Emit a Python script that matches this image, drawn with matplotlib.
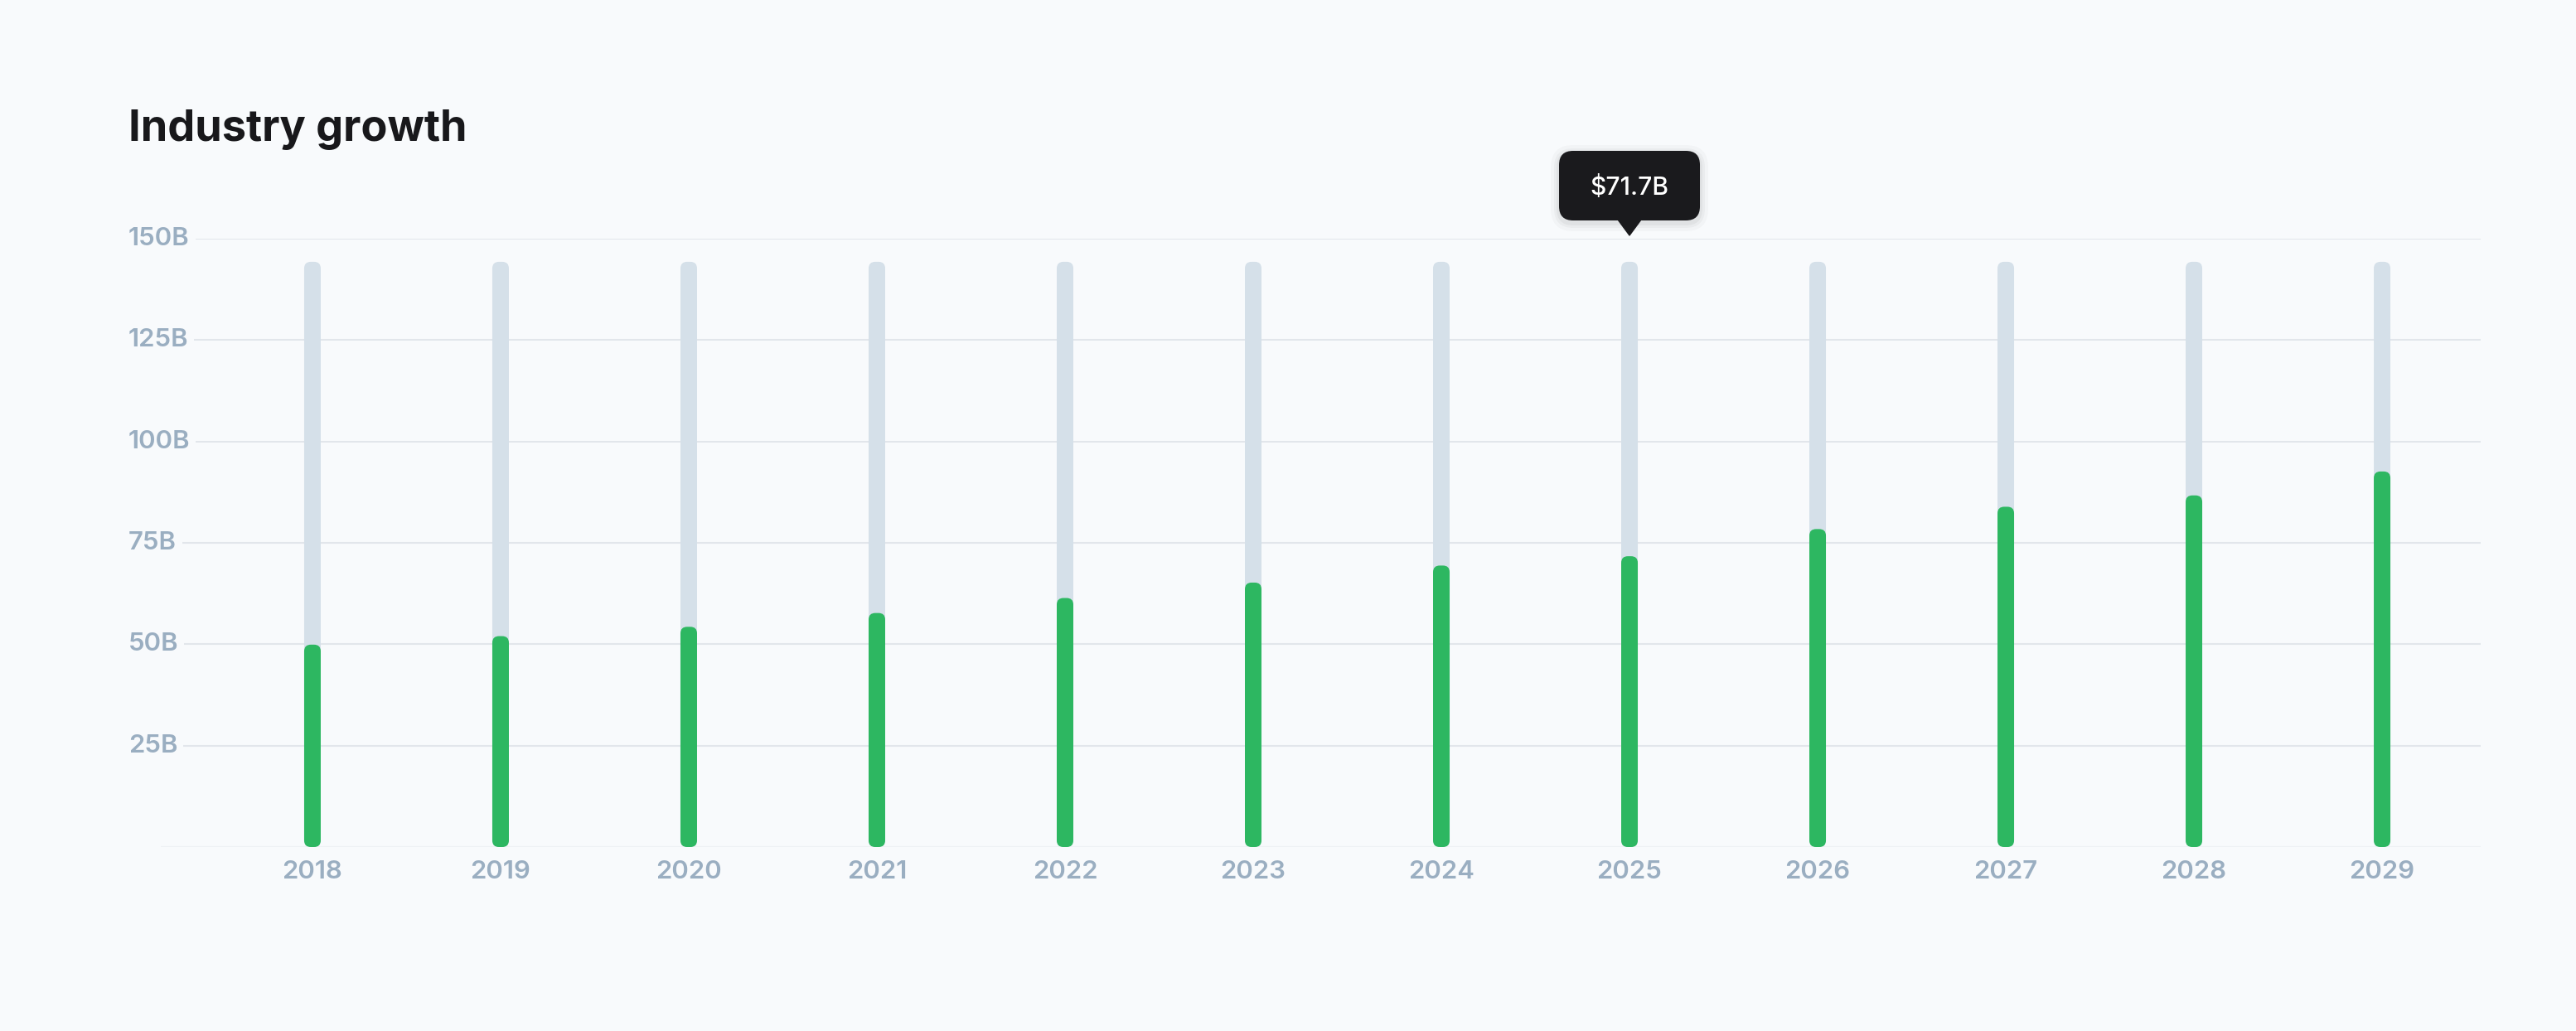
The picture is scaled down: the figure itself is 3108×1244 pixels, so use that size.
import numpy as np
import matplotlib
matplotlib.use("Agg")
import matplotlib.pyplot as plt
from matplotlib.patches import FancyBboxPatch, Polygon
from matplotlib import transforms

# data
years = ['2018', '2019', '2020', '2021', '2022', '2023',
         '2024', '2025', '2026', '2027', '2028', '2029']
values = [49.9, 52.0, 54.3, 57.7, 61.4, 65.2, 69.4, 71.7, 78.4, 83.9, 86.7, 92.6]
track = [144.3] * 12          # light grey background bars
yticks = [25, 50, 75, 100, 125, 150]
ytick_labels = ['25B', '50B', '75B', '100B', '125B', '150B']
highlight = 7                 # 2025 tooltip

BG = '#F8FAFC'
GREEN = '#2DB761'
TRACK = '#D5E0E9'
GRID = '#E2E6EB'
LABEL = '#9AAEC1'
W, H = 3108, 1244
DPI = 200

plt.rcParams['font.family'] = ['Inter', 'DejaVu Sans']

fig = plt.figure(figsize=(W / DPI, H / DPI), dpi=DPI, facecolor=BG)
ax = fig.add_axes([194 / W, (H - 1022) / H, (2993 - 194) / W, (1022 - 288) / H])
ax.set_facecolor(BG)
ax.set_xlim(-0.806, 11.524)
ax.set_ylim(0, 150)
for s in ax.spines.values():
    s.set_visible(False)
ax.set_xticks([])
ax.set_yticks([])

# grid lines
for t in yticks:
    ax.axhline(t, color=GRID, lw=0.75, zorder=0)
ax.axhline(0, color='#EEF1F4', lw=0.75, zorder=0)

# pixel sizes -> data units
fig.canvas.draw()
p0 = ax.transData.transform((0, 0))
p1 = ax.transData.transform((1, 1))
px_x = p1[0] - p0[0]
px_y = p1[1] - p0[1]
bar_w = 20 / px_x
rad = 8 / px_x
asp = px_x / px_y

x = np.arange(len(years))
for i in x:
    for val, col, z in ((track[i], TRACK, 1), (values[i], GREEN, 2)):
        ax.add_patch(FancyBboxPatch((i - bar_w / 2, 0), bar_w, val,
                                    boxstyle=f"round,pad=0,rounding_size={rad}",
                                    mutation_aspect=asp, fc=col, ec='none', zorder=z))

# year labels
for i, yr in enumerate(years):
    ax.text(i, -30 / px_y, yr, ha='center', va='center', fontsize=11.2,
            color=LABEL, fontweight='semibold', clip_on=False)

# y labels on the left, over the grid lines
blend = transforms.blended_transform_factory(fig.transFigure, ax.transData)
for t, lab in zip(yticks, ytick_labels):
    ax.text(155 / W, t, lab, transform=blend, ha='left', va='center', fontsize=11.2,
            color=LABEL, fontweight='semibold', zorder=3,
            bbox=dict(fc=BG, ec='none', pad=2.5))

# title
fig.text(155 / W, (H - 170) / H, 'Industry growth', ha='left', va='baseline',
         fontsize=18.8, fontweight='bold', color='#18181B')

# tooltip
cx = ax.transData.transform((highlight, 0))[0]
bw, bh = 170, 84
btop = H - 182
bbot = btop - bh
tip = H - 284
ident = transforms.IdentityTransform()
for k, a in ((10, 0.025), (6, 0.03), (3, 0.04)):
    fig.add_artist(FancyBboxPatch((cx - bw / 2 - k, bbot - k - 3), bw + 2 * k, bh + 2 * k,
                                  boxstyle=f"round,pad=0,rounding_size={17 + k}",
                                  fc='#000000', ec='none', alpha=a, transform=ident))
fig.add_artist(FancyBboxPatch((cx - bw / 2, bbot), bw, bh,
                              boxstyle="round,pad=0,rounding_size=17",
                              fc='#1A1A1D', ec='none', transform=ident))
fig.add_artist(Polygon([(cx - 14, bbot + 1), (cx + 14, bbot + 1), (cx, tip)],
                       closed=True, fc='#1A1A1D', ec='#1A1A1D', lw=0.5,
                       joinstyle='round', transform=ident))
fig.text(cx / W, (bbot + bh / 2 - 2) / H, '\\$%.1fB' % values[highlight],
         ha='center', va='center', fontsize=10.8, color='white', fontweight='medium')

fig.savefig('out.png', dpi=DPI, facecolor=BG)
